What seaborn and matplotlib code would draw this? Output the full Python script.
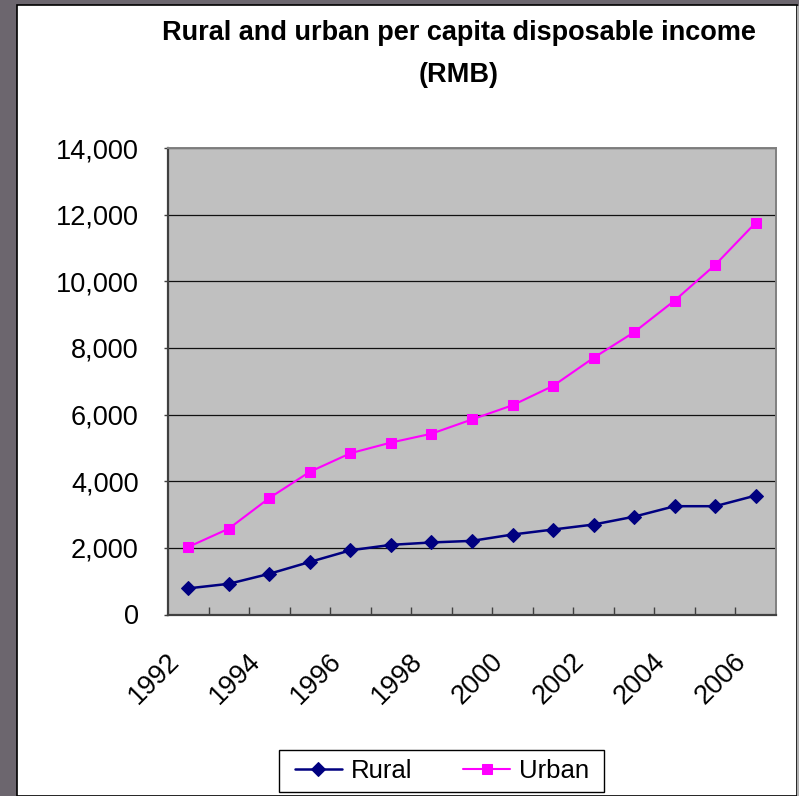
import numpy as np
import pandas as pd
import matplotlib
matplotlib.use('Agg')
import matplotlib.pyplot as plt
import matplotlib.transforms as mtransforms
import seaborn as sns
from matplotlib.patches import Rectangle
from matplotlib.ticker import FuncFormatter

# --- data ---
years = [1992, 1993, 1994, 1995, 1996, 1997, 1998, 1999,
         2000, 2001, 2002, 2003, 2004, 2005, 2006]
rural = [784, 921, 1221, 1578, 1926, 2090, 2162, 2210,
         2400, 2550, 2700, 2936, 3250, 3250, 3570]
urban = [2027, 2577, 3496, 4283, 4839, 5160, 5425, 5854,
         6280, 6860, 7703, 8472, 9422, 10493, 11759]
series_names = ['Rural', 'Urban']
year_labels = [str(y) for y in years[::2]]
title_text = 'Rural and urban per capita disposable income\n(RMB)'

sns.set_theme(style='white')
plt.rcParams['font.family'] = ['Liberation Sans', 'DejaVu Sans']
plt.rcParams['text.color'] = 'black'
plt.rcParams['xtick.color'] = 'black'
plt.rcParams['ytick.color'] = 'black'

W, H = 799, 796
fig = plt.figure(figsize=(W / 100, H / 100), dpi=100)
fig.patch.set_facecolor('#6c666e')

# white slide panel behind everything
fig.patches.append(Rectangle((17 / W, 0), (797 - 17) / W, (H - 5) / H,
                             transform=fig.transFigure, facecolor='white',
                             edgecolor='black', linewidth=1.2, zorder=-10))
fig.patches.append(Rectangle((797 / W, 0), 2 / W, (H - 6) / H,
                             transform=fig.transFigure, facecolor='#b0b0b0',
                             edgecolor='none', zorder=-10))

ax = fig.add_axes([168 / W, (H - 614.5) / H, (776 - 168) / W, (614.5 - 148) / H])
ax.set_facecolor('#c0c0c0')

df = pd.DataFrame({'year': years * 2,
                   'value': rural + urban,
                   'series': [series_names[0]] * len(years) + [series_names[1]] * len(years)})

sns.lineplot(data=df[df.series == 'Rural'], x='year', y='value', ax=ax,
             color='#000080', linewidth=1.8, marker='D', markersize=7.5,
             markeredgecolor='#000080', label='Rural', zorder=3)
sns.lineplot(data=df[df.series == 'Urban'], x='year', y='value', ax=ax,
             color='#ff00ff', linewidth=1.5, marker='s', markersize=7.8,
             markeredgecolor='#ff00ff', label='Urban', zorder=3)

ax.set_xlim(years[0] - 0.5, years[-1] + 0.5)
ax.set_ylim(0, 14000)
ax.set_yticks(np.arange(0, 14001, 2000))
ax.yaxis.set_major_formatter(FuncFormatter(lambda v, p: f'{int(v):,}'))
ax.grid(axis='y', color='#111111', linewidth=0.9)
ax.set_axisbelow(True)

ax.set_xticks(years[::2])
ax.set_xticklabels(year_labels, rotation=45, ha='right', va='center',
                   rotation_mode='anchor')
ax.set_xticks([y + 0.5 for y in years[:-1]], minor=True)
ax.tick_params(axis='x', which='major', length=0, pad=31, labelsize=19.5)
ax.tick_params(axis='x', which='minor', direction='in', length=6, width=1,
               color='#404040', bottom=True)
ax.tick_params(axis='y', which='major', direction='out', length=3, width=1,
               color='#404040', left=True, pad=18, labelsize=19.5)
ax.set_xlabel('')
ax.set_ylabel('')

# nudge year labels left, like the reference
shift = mtransforms.ScaledTranslation(-13 / 100, 0, fig.dpi_scale_trans)
for lab in ax.get_xticklabels():
    lab.set_transform(lab.get_transform() + shift)

for side in ['left', 'bottom']:
    ax.spines[side].set_color('#404040')
    ax.spines[side].set_linewidth(1.6)
for side in ['top', 'right']:
    ax.spines[side].set_color('#808080')
    ax.spines[side].set_linewidth(1.4)

fig.text(459 / W, 1 - 20 / H, title_text, ha='center', va='top',
         fontsize=19.5, fontweight='bold', linespacing=1.8, color='black')

# legend
handles, labels = ax.get_legend_handles_labels()
ax.get_legend().remove()
fig.legend(handles, labels, loc='center', bbox_to_anchor=(442 / W, 1 - 770.5 / H),
           ncol=2, frameon=False, fontsize=18.5, handlelength=1.8,
           handletextpad=0.35, columnspacing=2.0, borderpad=0.2,
           labelcolor='black')
fig.patches.append(Rectangle((279 / W, 1 - 791.5 / H), (604 - 279) / W, (791.5 - 749.5) / H,
                             transform=fig.transFigure, facecolor='none',
                             edgecolor='black', linewidth=1.0, zorder=5))

fig.savefig('out.png', dpi=100)
